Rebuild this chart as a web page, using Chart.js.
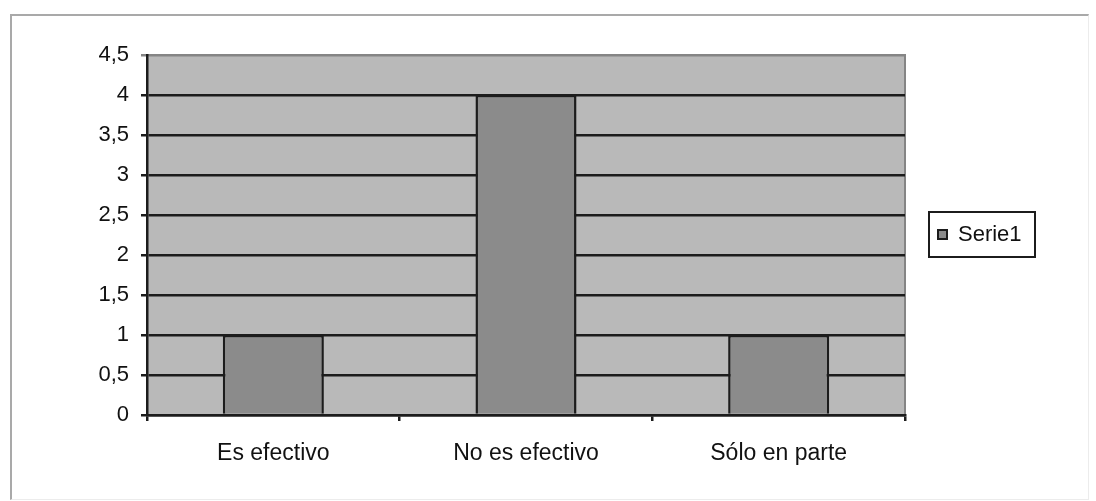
<!DOCTYPE html>
<html>
<head>
<meta charset="utf-8">
<script src="https://cdn.jsdelivr.net/npm/chart.js@4.4.1/dist/chart.umd.min.js"></script>
<style>
  html, body { margin: 0; padding: 0; background: #fff; }
  #wrap { position: relative; width: 1096px; height: 501px; }
  #frame {
    position: absolute; left: 10px; top: 14px; width: 1076px; height: 483px;
    border-top: 2px solid #a9a9a9; border-left: 2px solid #a9a9a9;
    border-right: 1px solid #ececec; border-bottom: 1px solid #ececec;
    pointer-events: none;
  }
  canvas { position: absolute; left: 0; top: 0; }
</style>
</head>
<body>
<div id="wrap">
  <canvas id="chart" width="1096" height="501"></canvas>
  <div id="frame"></div>
</div>
<script>
/* ---------- DATA ---------- */
const categories = ["Es efectivo", "No es efectivo", "Sólo en parte"];
const serieValues = [1, 4, 1];
const serieName = "Serie1";
const yTicks = [0, 0.5, 1, 1.5, 2, 2.5, 3, 3.5, 4, 4.5];

const FONT = "'Liberation Sans', Arial, sans-serif";
const INK = "#1c1c1c";

// gray plot area with a thin gray frame
const plotArea = {
  id: "plotArea",
  beforeDraw(chart) {
    const { ctx, chartArea: a } = chart;
    ctx.save();
    ctx.fillStyle = "#b9b9b9";
    ctx.fillRect(a.left, a.top, a.right - a.left, a.bottom - a.top);
    ctx.strokeStyle = "#858585";
    ctx.lineWidth = 2;
    ctx.strokeRect(a.left, a.top, a.right - a.left, a.bottom - a.top);
    ctx.restore();
  }
};

// boxed legend on the right, like the old office charts
const boxLegend = {
  id: "boxLegend",
  afterDraw(chart) {
    const { ctx } = chart;
    const ds = chart.data.datasets[0];
    ctx.save();
    ctx.strokeStyle = INK;
    ctx.lineWidth = 2;
    ctx.fillStyle = "#fff";
    ctx.fillRect(929, 212, 106, 45);
    ctx.strokeRect(929, 212, 106, 45);
    ctx.fillStyle = ds.backgroundColor;
    ctx.fillRect(938, 230, 9, 9);
    ctx.lineWidth = 2;
    ctx.strokeRect(938, 230, 9, 9);
    ctx.fillStyle = "#111";
    ctx.font = "22px " + FONT;
    ctx.textBaseline = "middle";
    ctx.fillText(ds.label, 958, 235);
    ctx.restore();
  }
};

new Chart(document.getElementById("chart"), {
  type: "bar",
  data: {
    labels: categories,
    datasets: [{
      label: serieName,
      data: serieValues,
      backgroundColor: "#8b8b8b",
      borderColor: INK,
      borderWidth: 2.5,
      categoryPercentage: 1,
      barPercentage: 0.4
    }]
  },
  options: {
    responsive: false,
    animation: false,
    devicePixelRatio: 1,
    layout: { padding: { top: 55, right: 191, bottom: 0, left: 0 } },
    plugins: { legend: { display: false }, tooltip: { enabled: false } },
    scales: {
      x: {
        afterFit: s => { s.height = 86; },
        grid: {
          drawOnChartArea: false,
          drawTicks: true,
          tickLength: 6,
          color: INK,
          lineWidth: 2.5
        },
        border: { color: INK, width: 2.5 },
        ticks: {
          color: "#111",
          padding: 19,
          font: { family: FONT, size: 23 }
        }
      },
      y: {
        min: 0,
        max: 4.5,
        afterFit: s => { s.width = 147; },
        afterBuildTicks: s => { s.ticks = yTicks.map(v => ({ value: v })); },
        grid: {
          color: c => (c.tick && c.tick.value === 4.5 ? "#858585" : INK),
          lineWidth: 2.5,
          tickLength: 6
        },
        border: { color: INK, width: 2.5 },
        ticks: {
          color: "#111",
          padding: 12,
          font: { family: FONT, size: 22 },
          callback: v => String(v).replace(".", ",")
        }
      }
    }
  },
  plugins: [plotArea, boxLegend]
});
</script>
</body>
</html>
